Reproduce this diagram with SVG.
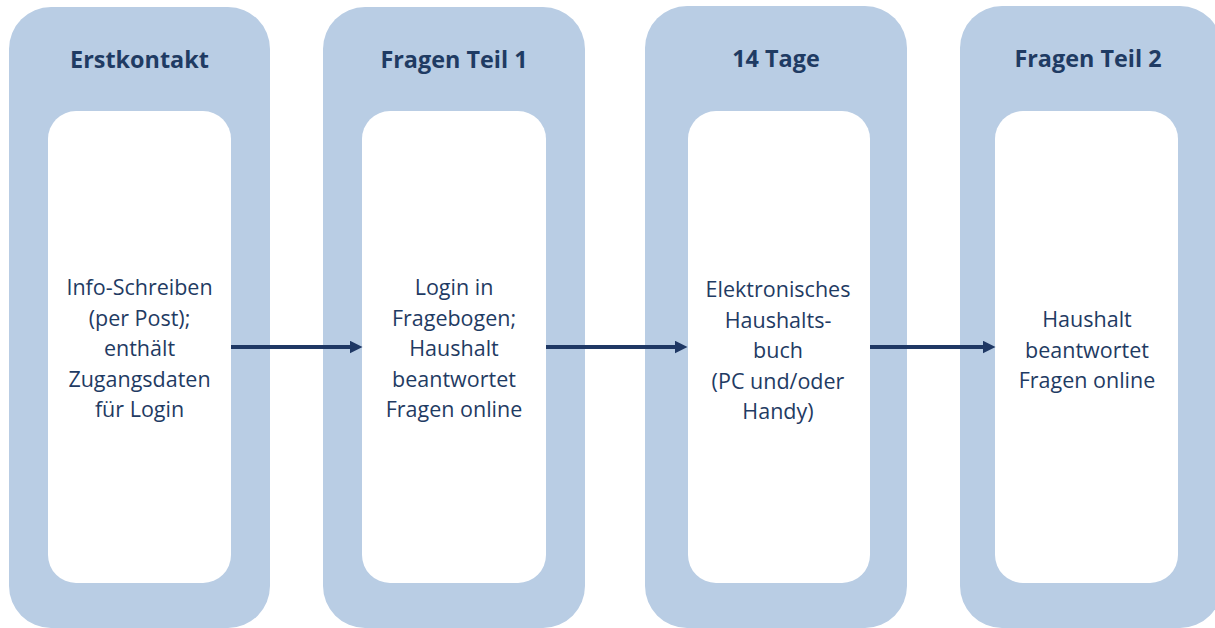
<svg xmlns="http://www.w3.org/2000/svg" width="1215" height="628" viewBox="0 0 1215 628">
<defs>
<style>
.outer{fill:#b9cde4}
.inner{fill:#ffffff}
.title{font-family:"Open Sans","Liberation Sans",sans-serif;font-weight:bold;font-size:23.4px;fill:#1f3b63;text-anchor:middle}
.body{font-family:"Open Sans","Liberation Sans",sans-serif;font-size:21.5px;fill:#1f3b63;text-anchor:middle}
.conn{stroke:#1f3864;stroke-width:4;fill:none}
</style>
<marker id="ah" markerUnits="userSpaceOnUse" markerWidth="14" markerHeight="14" refX="0.5" refY="6.5" orient="auto">
<path d="M0,0 L13,6.5 L0,13 Z" fill="#1f3864"/>
</marker>
</defs>
<rect width="1215" height="628" fill="#ffffff"/>
<g id="node1">
<rect class="outer" x="9" y="7" width="261" height="621" rx="42"/>
<rect class="inner" x="48" y="111" width="183" height="472" rx="28"/>
<text class="title" x="139.5" y="68">Erstkontakt</text>
<text class="body" x="139.5" y="295">Info-Schreiben</text>
<text class="body" x="139.5" y="325.5">(per Post);</text>
<text class="body" x="139.5" y="356">enthält</text>
<text class="body" x="139.5" y="386.5">Zugangsdaten</text>
<text class="body" x="139.5" y="417">für Login</text>
</g>
<g id="node2">
<rect class="outer" x="323" y="7" width="262" height="621" rx="42"/>
<rect class="inner" x="362" y="111" width="184" height="472" rx="28"/>
<text class="title" x="454" y="68">Fragen Teil 1</text>
<text class="body" x="454" y="295">Login in</text>
<text class="body" x="454" y="325.5">Fragebogen;</text>
<text class="body" x="454" y="356">Haushalt</text>
<text class="body" x="454" y="386.5">beantwortet</text>
<text class="body" x="454" y="417">Fragen online</text>
</g>
<g id="node3">
<rect class="outer" x="645" y="6" width="262" height="622" rx="42"/>
<rect class="inner" x="688" y="111" width="182" height="472" rx="28"/>
<text class="title" x="776" y="67">14 Tage</text>
<text class="body" x="778" y="297">Elektronisches</text>
<text class="body" x="778" y="327.5">Haushalts-</text>
<text class="body" x="778" y="358">buch</text>
<text class="body" x="778" y="388.5">(PC und/oder</text>
<text class="body" x="778" y="419">Handy)</text>
</g>
<g id="node4">
<rect class="outer" x="960" y="6" width="262" height="622" rx="42"/>
<rect class="inner" x="995" y="111" width="183" height="472" rx="28"/>
<text class="title" x="1088" y="67">Fragen Teil 2</text>
<text class="body" x="1087" y="327">Haushalt</text>
<text class="body" x="1087" y="357.5">beantwortet</text>
<text class="body" x="1087" y="388">Fragen online</text>
</g>
<g id="connectors">
<line class="conn" x1="231" y1="347" x2="350" y2="347" marker-end="url(#ah)"/>
<line class="conn" x1="546" y1="347" x2="675" y2="347" marker-end="url(#ah)"/>
<line class="conn" x1="870" y1="347" x2="983" y2="347" marker-end="url(#ah)"/>
</g>
</svg>
